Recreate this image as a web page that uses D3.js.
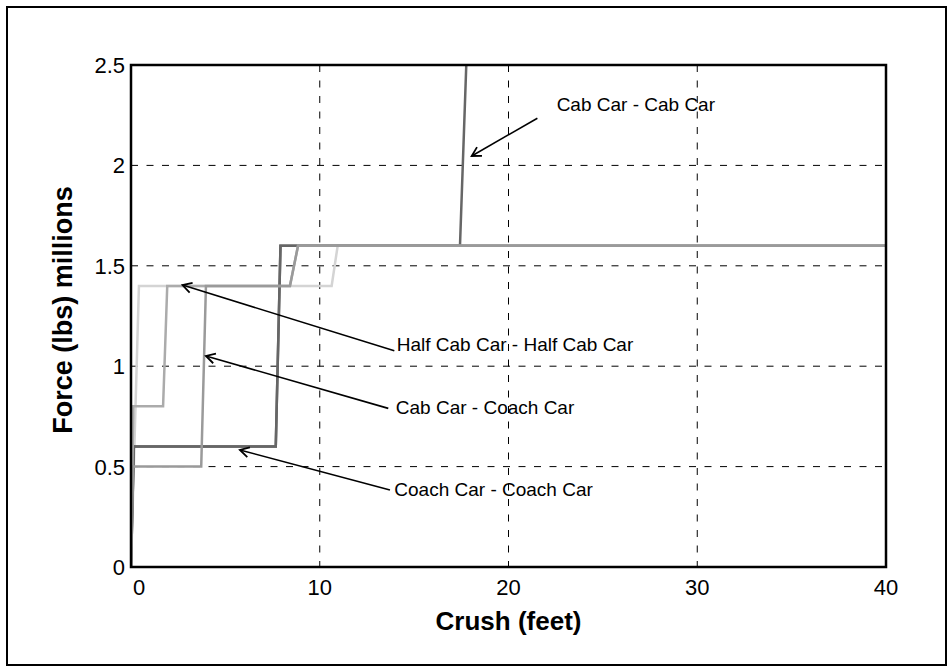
<!DOCTYPE html>
<html>
<head>
<meta charset="UTF-8">
<title>Force vs Crush</title>
<script src="https://d3js.org/d3.v7.min.js"></script>
<style>
  body { margin: 0; background: #fff; }
  text { font-family: "Liberation Sans", Arial, sans-serif; fill: #000; }
  .grid line { stroke: #000; stroke-width: 1; stroke-dasharray: 7, 8.5; }
  .curve { fill: none; stroke-width: 2.5; stroke-linejoin: miter; }
  .arrow { stroke: #000; stroke-width: 1.6; fill: none; }
</style>
</head>
<body>
<script>
// crush (feet) / force (millions of lbs)
var lightCrush  = [0, 0.42, 10.63, 10.95, 40];
var lightForce  = [0, 1.4, 1.4, 1.6, 1.6];

var coachCrush  = [0, 0.15, 7.67, 7.92, 40];
var coachForce  = [0, 0.6, 0.6, 1.6, 1.6];

var cabCabCrush = [0, 0.15, 7.67, 7.92, 17.43, 17.8];
var cabCabForce = [0, 0.6, 0.6, 1.6, 1.6, 2.6];

var halfCabCrush = [0, 0.12, 1.7, 1.92, 8.42, 8.85, 40];
var halfCabForce = [0, 0.8, 0.8, 1.4, 1.4, 1.6, 1.6];

var cabCoachCrush = [0, 0.1, 3.72, 3.97, 8.42, 8.85, 40];
var cabCoachForce = [0, 0.5, 0.5, 1.4, 1.4, 1.6, 1.6];

var xTicks = [0, 10, 20, 30, 40];
var yTicks = [0, 0.5, 1, 1.5, 2, 2.5];

// annotations: label, text pos, arrow tail, arrow tip (data units)
var labels   = ["Cab Car - Cab Car", "Half Cab Car - Half Cab Car", "Cab Car - Coach Car", "Coach Car - Coach Car"];
var labelPos = [[22.55, 2.27], [14.08, 1.077], [14.03, 0.762], [13.95, 0.354]];
var tailPos  = [[21.53, 2.235], [13.95, 1.077], [13.63, 0.79], [13.72, 0.383]];
var tipPos   = [[18.05, 2.047], [2.73, 1.404], [3.97, 1.051], [5.77, 0.583]];

var W = 952, H = 672;
var pLeft = 131, pRight = 886, pTop = 65, pBottom = 567;

var svg = d3.select("body").append("svg")
    .attr("width", W).attr("height", H);

// outer frame
svg.append("rect")
    .attr("x", 7).attr("y", 7)
    .attr("width", 939).attr("height", 658)
    .attr("fill", "#fff").attr("stroke", "#000").attr("stroke-width", 2);

var x = d3.scaleLinear().domain([0, 40]).range([pLeft, pRight]);
var y = d3.scaleLinear().domain([0, 2.5]).range([pBottom, pTop]);

// grid
var grid = svg.append("g").attr("class", "grid");
grid.selectAll(".vg").data(xTicks.slice(1, -1)).enter().append("line")
    .attr("x1", d => x(d)).attr("x2", d => x(d))
    .attr("y1", pTop).attr("y2", pBottom);
grid.selectAll(".hg").data(yTicks.slice(1, -1)).enter().append("line")
    .attr("x1", pLeft).attr("x2", pRight)
    .attr("y1", d => y(d)).attr("y2", d => y(d));

// curves
svg.append("clipPath").attr("id", "clip").append("rect")
    .attr("x", pLeft).attr("y", pTop).attr("width", pRight - pLeft).attr("height", pBottom - pTop);

var series = [
  {c: lightCrush, f: lightForce, col: "#d4d4d4"},
  {c: coachCrush, f: coachForce, col: "#626262"},
  {c: cabCabCrush, f: cabCabForce, col: "#666666"},
  {c: halfCabCrush, f: halfCabForce, col: "#ababab"},
  {c: cabCoachCrush, f: cabCoachForce, col: "#9a9a9a"}
];

var line = d3.line().x(d => x(d[0])).y(d => y(d[1]));

svg.append("g").attr("clip-path", "url(#clip)")
  .selectAll("path").data(series).enter().append("path")
    .attr("class", "curve")
    .attr("stroke", d => d.col)
    .attr("d", d => line(d.c.map((v, i) => [v, d.f[i]])));

// plot box
svg.append("rect")
    .attr("x", pLeft).attr("y", pTop)
    .attr("width", pRight - pLeft).attr("height", pBottom - pTop)
    .attr("fill", "none").attr("stroke", "#000").attr("stroke-width", 2.5);

// tick labels
svg.append("g").selectAll("text").data(xTicks).enter().append("text")
    .attr("x", d => x(d))
    .attr("y", 595)
    .attr("text-anchor", d => d === 0 ? "start" : "middle")
    .attr("dx", d => d === 0 ? 2 : 0)
    .style("font-size", "22px")
    .text(d => d);

svg.append("g").selectAll("text").data(yTicks).enter().append("text")
    .attr("x", 125)
    .attr("y", d => y(d))
    .attr("dy", "0.36em")
    .attr("text-anchor", "end")
    .style("font-size", "22px")
    .text(d => d);

// axis titles
svg.append("text")
    .attr("x", (pLeft + pRight) / 2).attr("y", 630)
    .attr("text-anchor", "middle")
    .style("font-size", "26px").style("font-weight", "bold")
    .text("Crush (feet)");

svg.append("text")
    .attr("transform", "translate(72,310) rotate(-90)")
    .attr("text-anchor", "middle")
    .style("font-size", "27px").style("font-weight", "bold")
    .text("Force (lbs) millions");

// arrows
svg.append("defs").append("marker")
    .attr("id", "head")
    .attr("markerUnits", "userSpaceOnUse")
    .attr("viewBox", "-12 -7 14 14")
    .attr("markerWidth", 14).attr("markerHeight", 14)
    .attr("refX", 0).attr("refY", 0)
    .attr("orient", "auto")
  .append("path")
    .attr("d", "M-9,-5 L0,0 L-9,5")
    .attr("fill", "none").attr("stroke", "#000").attr("stroke-width", 1.8);

svg.append("g").selectAll("line").data(labels).enter().append("line")
    .attr("class", "arrow")
    .attr("x1", (d, i) => x(tailPos[i][0])).attr("y1", (d, i) => y(tailPos[i][1]))
    .attr("x2", (d, i) => x(tipPos[i][0])).attr("y2", (d, i) => y(tipPos[i][1]))
    .attr("marker-end", "url(#head)");

svg.append("g").selectAll("text").data(labels).enter().append("text")
    .attr("x", (d, i) => x(labelPos[i][0]))
    .attr("y", (d, i) => y(labelPos[i][1]))
    .style("font-size", "19px")
    .text(d => d);
</script>
</body>
</html>
